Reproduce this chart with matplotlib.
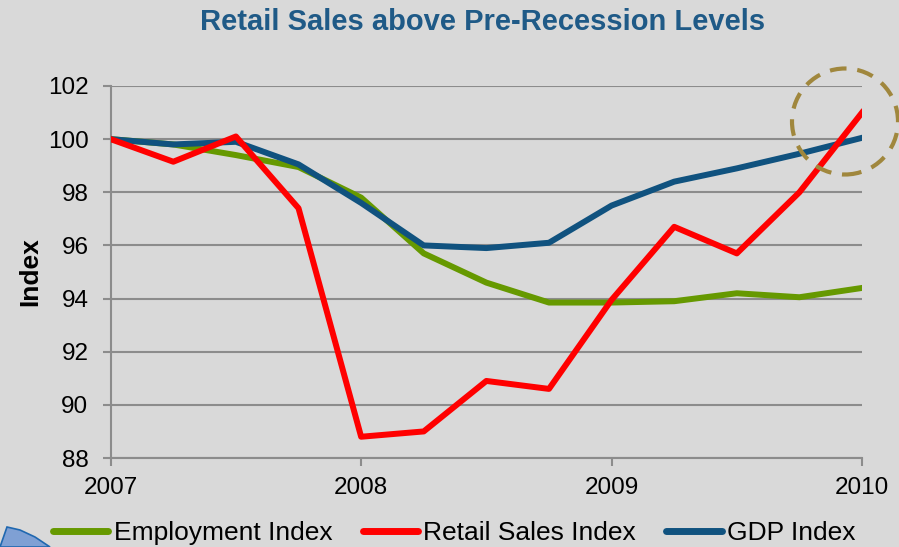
import matplotlib
matplotlib.use("Agg")
import matplotlib.pyplot as plt
from matplotlib.patches import Circle, Polygon

# quarterly index values, 2007 Q1 = 100
quarters = [2007 + q / 4 for q in range(13)]
employment = [100.0, 99.8, 99.4, 98.95, 97.8, 95.7, 94.6, 93.85, 93.85, 93.9, 94.2, 94.05, 94.4]
retail = [100.0, 99.15, 100.1, 97.4, 88.8, 89.0, 90.9, 90.6, 93.95, 96.7, 95.7, 98.0, 101.0]
gdp = [100.0, 99.8, 99.9, 99.05, 97.6, 96.0, 95.9, 96.1, 97.5, 98.4, 98.9, 99.45, 100.05]

year_ticks = [2007, 2008, 2009, 2010]
index_ticks = [88, 90, 92, 94, 96, 98, 100, 102]

bg = "#d9d9d9"
grid_col = "#8c8c8c"

plt.rcParams["font.family"] = ["Liberation Sans", "DejaVu Sans"]

fig = plt.figure(figsize=(8.99, 5.47), dpi=100, facecolor=bg)
ax = fig.add_axes([0.1231, 0.1627, 0.8358, 0.6801], facecolor=bg)

ax.plot(quarters, employment, color="#669900", lw=4.3, label="Employment Index", zorder=3,
        solid_joinstyle="round")
ax.plot(quarters, retail, color="#ff0000", lw=4.3, label="Retail Sales Index", zorder=5,
        solid_joinstyle="round")
ax.plot(quarters, gdp, color="#10527f", lw=4.3, label="GDP Index", zorder=4,
        solid_joinstyle="round")

ax.set_xlim(2007, 2010)
ax.set_ylim(88, 102)
ax.set_xticks(year_ticks)
ax.set_xticklabels([str(y) for y in year_ticks])
ax.set_yticks(index_ticks)
ax.yaxis.grid(True, color=grid_col, lw=1.5)
ax.set_axisbelow(True)
for side in ("top", "right"):
    ax.spines[side].set_visible(False)
for side in ("left", "bottom"):
    ax.spines[side].set_color(grid_col)
    ax.spines[side].set_linewidth(1.5)
ax.tick_params(axis="both", colors=grid_col, labelcolor="black", labelsize=17.5,
               length=6, width=1.5)
ax.tick_params(axis="y", pad=10)
ax.tick_params(axis="x", pad=8)

ax.set_ylabel("Index", fontsize=19, fontweight="bold", labelpad=4)
fig.text(0.537, 0.96, "Retail Sales above Pre-Recession Levels", ha="center", va="center",
         fontsize=21, fontweight="bold", color="#1f5a87")

leg = fig.legend(loc="center left", bbox_to_anchor=(0.059, 0.026), ncol=3, frameon=False,
                 fontsize=19, handlelength=2.1, handletextpad=0.2, columnspacing=1.15,
                 borderaxespad=0, borderpad=0)
for h in leg.get_lines():
    h.set_linewidth(5)
    h.set_solid_capstyle("round")

# dashed ring around the latest quarter
ring = Circle((8.45, 4.255), 0.53, transform=fig.dpi_scale_trans, fill=False,
              edgecolor="#a0873d", lw=3, linestyle=(0, (4, 2.6)), clip_on=False, zorder=6)
fig.add_artist(ring)

# corner of a shape peeking in at the lower left
corner = Polygon([(0.0, 0.0), (0.07, 0.20), (0.2, 0.17), (0.35, 0.10), (0.5, 0.0)],
                 transform=fig.dpi_scale_trans, facecolor="#7fa0d4", edgecolor="#2068b0",
                 lw=1.2, clip_on=False)
fig.add_artist(corner)

fig.savefig("out.png", dpi=100, facecolor=bg)
